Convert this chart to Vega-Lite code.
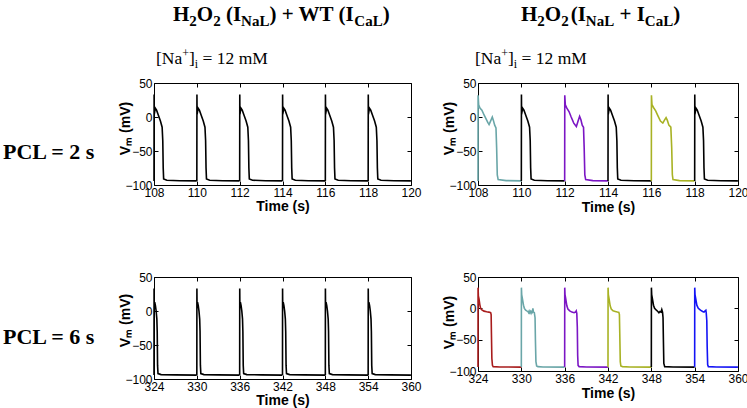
{
  "$schema": "https://vega.github.io/schema/vega-lite/v6.json",
  "background": "white",
  "padding": {"left": 2, "top": 3, "right": 2, "bottom": 2},
  "config": {
    "view": {"stroke": "#000", "strokeWidth": 1},
    "axis": {"grid": false, "domain": false, "ticks": true, "tickColor": "#000", "tickSize": -4, "labelFont": "Liberation Sans", "labelFontSize": 12, "labelColor": "#000", "labelFlush": false, "labelOverlap": false, "titleFont": "Liberation Sans", "titleFontSize": 14, "titleFontWeight": "bold", "titleColor": "#000", "labelPadding": 6},
    "text": {"color": "#000"}
  },
  "columns": 2,
  "spacing": {"row": 92, "column": 67},
  "bounds": "flush",
  "align": "each",
  "resolve": {"scale": {"x": "independent", "y": "independent", "color": "shared"}},
  "concat": [
    {
      "width": 257, "height": 102,
      "data": {"values": [
        {"t":108,"v":-94,"b":1},{"t":108.005,"v":33,"b":1},{"t":108.012,"v":4,"b":1},{"t":108.06,"v":13,"b":1},{"t":108.12,"v":10,"b":1},{"t":108.2,"v":3,"b":1},{"t":108.3,"v":-6,"b":1},{"t":108.38,"v":-15,"b":1},{"t":108.41,"v":-35,"b":1},{"t":108.43,"v":-75,"b":1},{"t":108.45,"v":-91,"b":1},{"t":108.6,"v":-93,"b":1},{"t":109.2,"v":-93.8,"b":1},{"t":109.995,"v":-94,"b":1},
        {"t":110,"v":-94,"b":2},{"t":110.005,"v":33,"b":2},{"t":110.012,"v":4,"b":2},{"t":110.06,"v":13,"b":2},{"t":110.12,"v":10,"b":2},{"t":110.2,"v":3,"b":2},{"t":110.3,"v":-6,"b":2},{"t":110.38,"v":-15,"b":2},{"t":110.41,"v":-35,"b":2},{"t":110.43,"v":-75,"b":2},{"t":110.45,"v":-91,"b":2},{"t":110.6,"v":-93,"b":2},{"t":111.2,"v":-93.8,"b":2},{"t":111.995,"v":-94,"b":2},
        {"t":112,"v":-94,"b":3},{"t":112.005,"v":33,"b":3},{"t":112.012,"v":4,"b":3},{"t":112.06,"v":13,"b":3},{"t":112.12,"v":10,"b":3},{"t":112.2,"v":3,"b":3},{"t":112.3,"v":-6,"b":3},{"t":112.38,"v":-15,"b":3},{"t":112.41,"v":-35,"b":3},{"t":112.43,"v":-75,"b":3},{"t":112.45,"v":-91,"b":3},{"t":112.6,"v":-93,"b":3},{"t":113.2,"v":-93.8,"b":3},{"t":113.995,"v":-94,"b":3},
        {"t":114,"v":-94,"b":4},{"t":114.005,"v":33,"b":4},{"t":114.012,"v":4,"b":4},{"t":114.06,"v":13,"b":4},{"t":114.12,"v":10,"b":4},{"t":114.2,"v":3,"b":4},{"t":114.3,"v":-6,"b":4},{"t":114.38,"v":-15,"b":4},{"t":114.41,"v":-35,"b":4},{"t":114.43,"v":-75,"b":4},{"t":114.45,"v":-91,"b":4},{"t":114.6,"v":-93,"b":4},{"t":115.2,"v":-93.8,"b":4},{"t":115.995,"v":-94,"b":4},
        {"t":116,"v":-94,"b":5},{"t":116.005,"v":33,"b":5},{"t":116.012,"v":4,"b":5},{"t":116.06,"v":13,"b":5},{"t":116.12,"v":10,"b":5},{"t":116.2,"v":3,"b":5},{"t":116.3,"v":-6,"b":5},{"t":116.38,"v":-15,"b":5},{"t":116.41,"v":-35,"b":5},{"t":116.43,"v":-75,"b":5},{"t":116.45,"v":-91,"b":5},{"t":116.6,"v":-93,"b":5},{"t":117.2,"v":-93.8,"b":5},{"t":117.995,"v":-94,"b":5},
        {"t":118,"v":-94,"b":6},{"t":118.005,"v":33,"b":6},{"t":118.012,"v":4,"b":6},{"t":118.06,"v":13,"b":6},{"t":118.12,"v":10,"b":6},{"t":118.2,"v":3,"b":6},{"t":118.3,"v":-6,"b":6},{"t":118.38,"v":-15,"b":6},{"t":118.41,"v":-35,"b":6},{"t":118.43,"v":-75,"b":6},{"t":118.45,"v":-91,"b":6},{"t":118.6,"v":-93,"b":6},{"t":119.2,"v":-93.8,"b":6},{"t":119.995,"v":-94,"b":6}
      ]},
      "resolve": {"axis": {"x": "independent", "y": "independent"}},
      "layer": [
        {"mark": {"type": "line", "strokeWidth": 1.6, "color": "#000"},
         "encoding": {
           "x": {"field": "t", "type": "quantitative", "scale": {"domain": [108, 120], "nice": false, "zero": false}, "axis": {"orient": "bottom", "values": [108,110,112,114,116,118,120], "title": "Time (s)", "titleY": 25, "titleBaseline": "alphabetic"}},
           "y": {"field": "v", "type": "quantitative", "scale": {"domain": [-100, 50], "nice": false}, "axis": {"orient": "left", "values": [-100,-50,0,50], "title": "Vₘ (mV)", "titleX": -25, "titleY": 45, "titleBaseline": "alphabetic"}},
           "detail": {"field": "b"}}},
        {"mark": {"type": "line", "opacity": 0},
         "encoding": {
           "x": {"field": "t", "type": "quantitative", "axis": {"orient": "top", "values": [108,110,112,114,116,118,120], "labels": false, "title": null}},
           "y": {"field": "v", "type": "quantitative", "axis": {"orient": "right", "values": [-100,-50,0,50], "labels": false, "title": null}},
           "detail": {"field": "b"}}},
        {"data": {"values": [{}]}, "mark": {"type": "text", "text": "PCL = 2 s", "x": -151, "y": 76, "align": "left", "baseline": "alphabetic", "font": "Liberation Serif", "fontWeight": "bold", "fontSize": 22}},
        {"data": {"values": [{}]}, "mark": {"type": "text", "text": "H", "x": 19, "y": -62.5, "align": "left", "baseline": "alphabetic", "font": "Liberation Serif", "fontWeight": "bold", "fontSize": 21}},
        {"data": {"values": [{}]}, "mark": {"type": "text", "text": "2", "x": 35.34, "y": -57.5, "align": "left", "baseline": "alphabetic", "font": "Liberation Serif", "fontWeight": "bold", "fontSize": 15}},
        {"data": {"values": [{}]}, "mark": {"type": "text", "text": "O", "x": 42.84, "y": -62.5, "align": "left", "baseline": "alphabetic", "font": "Liberation Serif", "fontWeight": "bold", "fontSize": 21}},
        {"data": {"values": [{}]}, "mark": {"type": "text", "text": "2", "x": 59.18, "y": -57.5, "align": "left", "baseline": "alphabetic", "font": "Liberation Serif", "fontWeight": "bold", "fontSize": 15}},
        {"data": {"values": [{}]}, "mark": {"type": "text", "text": "(I", "x": 71.93, "y": -62.5, "align": "left", "baseline": "alphabetic", "font": "Liberation Serif", "fontWeight": "bold", "fontSize": 21}},
        {"data": {"values": [{}]}, "mark": {"type": "text", "text": "NaL", "x": 87.09, "y": -57.5, "align": "left", "baseline": "alphabetic", "font": "Liberation Serif", "fontWeight": "bold", "fontSize": 15}},
        {"data": {"values": [{}]}, "mark": {"type": "text", "text": ") + WT (I", "x": 115.43, "y": -62.5, "align": "left", "baseline": "alphabetic", "font": "Liberation Serif", "fontWeight": "bold", "fontSize": 21}},
        {"data": {"values": [{}]}, "mark": {"type": "text", "text": "CaL", "x": 200.31, "y": -57.5, "align": "left", "baseline": "alphabetic", "font": "Liberation Serif", "fontWeight": "bold", "fontSize": 15}},
        {"data": {"values": [{}]}, "mark": {"type": "text", "text": ")", "x": 228.65, "y": -62.5, "align": "left", "baseline": "alphabetic", "font": "Liberation Serif", "fontWeight": "bold", "fontSize": 21}},
        {"data": {"values": [{}]}, "mark": {"type": "text", "text": "[Na", "x": 2, "y": -19, "align": "left", "baseline": "alphabetic", "font": "Liberation Serif", "fontSize": 17.5}},
        {"data": {"values": [{}]}, "mark": {"type": "text", "text": "+", "x": 28.23, "y": -26, "align": "left", "baseline": "alphabetic", "font": "Liberation Serif", "fontSize": 12}},
        {"data": {"values": [{}]}, "mark": {"type": "text", "text": "]", "x": 35.0, "y": -19, "align": "left", "baseline": "alphabetic", "font": "Liberation Serif", "fontSize": 17.5}},
        {"data": {"values": [{}]}, "mark": {"type": "text", "text": "i", "x": 40.83, "y": -15, "align": "left", "baseline": "alphabetic", "font": "Liberation Serif", "fontSize": 12}},
        {"data": {"values": [{}]}, "mark": {"type": "text", "text": "= 12 mM", "x": 48.55, "y": -19, "align": "left", "baseline": "alphabetic", "font": "Liberation Serif", "fontSize": 17.5}}
      ]
    },
    {
      "width": 260, "height": 102,
      "data": {"values": [
        {"t":108,"v":-94,"b":1,"c":"teal"},{"t":108.005,"v":32,"b":1,"c":"teal"},{"t":108.03,"v":18,"b":1,"c":"teal"},{"t":108.09,"v":13,"b":1,"c":"teal"},{"t":108.18,"v":10,"b":1,"c":"teal"},{"t":108.28,"v":3,"b":1,"c":"teal"},{"t":108.36,"v":-2,"b":1,"c":"teal"},{"t":108.45,"v":-8,"b":1,"c":"teal"},{"t":108.51,"v":-11,"b":1,"c":"teal"},{"t":108.58,"v":-6,"b":1,"c":"teal"},{"t":108.66,"v":0,"b":1,"c":"teal"},{"t":108.71,"v":-5,"b":1,"c":"teal"},{"t":108.77,"v":-12,"b":1,"c":"teal"},{"t":108.83,"v":-16,"b":1,"c":"teal"},{"t":108.86,"v":-45,"b":1,"c":"teal"},{"t":108.89,"v":-85,"b":1,"c":"teal"},{"t":108.93,"v":-92,"b":1,"c":"teal"},{"t":109.3,"v":-93.5,"b":1,"c":"teal"},{"t":109.995,"v":-94,"b":1,"c":"teal"},
        {"t":110,"v":-94,"b":2,"c":"black"},{"t":110.005,"v":33,"b":2,"c":"black"},{"t":110.012,"v":4,"b":2,"c":"black"},{"t":110.06,"v":13,"b":2,"c":"black"},{"t":110.12,"v":10,"b":2,"c":"black"},{"t":110.2,"v":3,"b":2,"c":"black"},{"t":110.3,"v":-6,"b":2,"c":"black"},{"t":110.38,"v":-15,"b":2,"c":"black"},{"t":110.41,"v":-35,"b":2,"c":"black"},{"t":110.43,"v":-75,"b":2,"c":"black"},{"t":110.45,"v":-91,"b":2,"c":"black"},{"t":110.6,"v":-93,"b":2,"c":"black"},{"t":111.2,"v":-93.8,"b":2,"c":"black"},{"t":111.995,"v":-94,"b":2,"c":"black"},
        {"t":112,"v":-94,"b":3,"c":"purple"},{"t":112.005,"v":32,"b":3,"c":"purple"},{"t":112.03,"v":18,"b":3,"c":"purple"},{"t":112.1,"v":13,"b":3,"c":"purple"},{"t":112.2,"v":8,"b":3,"c":"purple"},{"t":112.3,"v":0,"b":3,"c":"purple"},{"t":112.42,"v":-9,"b":3,"c":"purple"},{"t":112.54,"v":-14,"b":3,"c":"purple"},{"t":112.62,"v":-6,"b":3,"c":"purple"},{"t":112.69,"v":1,"b":3,"c":"purple"},{"t":112.75,"v":-4,"b":3,"c":"purple"},{"t":112.81,"v":-12,"b":3,"c":"purple"},{"t":112.87,"v":-15,"b":3,"c":"purple"},{"t":112.9,"v":-45,"b":3,"c":"purple"},{"t":112.93,"v":-85,"b":3,"c":"purple"},{"t":112.97,"v":-92,"b":3,"c":"purple"},{"t":113.3,"v":-93.5,"b":3,"c":"purple"},{"t":113.995,"v":-94,"b":3,"c":"purple"},
        {"t":114,"v":-94,"b":4,"c":"black"},{"t":114.005,"v":33,"b":4,"c":"black"},{"t":114.012,"v":4,"b":4,"c":"black"},{"t":114.06,"v":13,"b":4,"c":"black"},{"t":114.12,"v":10,"b":4,"c":"black"},{"t":114.2,"v":3,"b":4,"c":"black"},{"t":114.3,"v":-6,"b":4,"c":"black"},{"t":114.38,"v":-15,"b":4,"c":"black"},{"t":114.41,"v":-35,"b":4,"c":"black"},{"t":114.43,"v":-75,"b":4,"c":"black"},{"t":114.45,"v":-91,"b":4,"c":"black"},{"t":114.6,"v":-93,"b":4,"c":"black"},{"t":115.2,"v":-93.8,"b":4,"c":"black"},{"t":115.995,"v":-94,"b":4,"c":"black"},
        {"t":116,"v":-94,"b":5,"c":"olive"},{"t":116.005,"v":32,"b":5,"c":"olive"},{"t":116.03,"v":18,"b":5,"c":"olive"},{"t":116.1,"v":14,"b":5,"c":"olive"},{"t":116.2,"v":9,"b":5,"c":"olive"},{"t":116.3,"v":2,"b":5,"c":"olive"},{"t":116.42,"v":-6,"b":5,"c":"olive"},{"t":116.53,"v":-9,"b":5,"c":"olive"},{"t":116.6,"v":-5,"b":5,"c":"olive"},{"t":116.68,"v":-1,"b":5,"c":"olive"},{"t":116.74,"v":-5,"b":5,"c":"olive"},{"t":116.81,"v":-12,"b":5,"c":"olive"},{"t":116.9,"v":-15,"b":5,"c":"olive"},{"t":116.94,"v":-45,"b":5,"c":"olive"},{"t":116.97,"v":-85,"b":5,"c":"olive"},{"t":117.0,"v":-92,"b":5,"c":"olive"},{"t":117.3,"v":-93.5,"b":5,"c":"olive"},{"t":117.995,"v":-94,"b":5,"c":"olive"},
        {"t":118,"v":-94,"b":6,"c":"black"},{"t":118.005,"v":33,"b":6,"c":"black"},{"t":118.012,"v":4,"b":6,"c":"black"},{"t":118.06,"v":13,"b":6,"c":"black"},{"t":118.12,"v":10,"b":6,"c":"black"},{"t":118.2,"v":3,"b":6,"c":"black"},{"t":118.3,"v":-6,"b":6,"c":"black"},{"t":118.38,"v":-15,"b":6,"c":"black"},{"t":118.41,"v":-35,"b":6,"c":"black"},{"t":118.43,"v":-75,"b":6,"c":"black"},{"t":118.45,"v":-91,"b":6,"c":"black"},{"t":118.6,"v":-93,"b":6,"c":"black"},{"t":119.2,"v":-93.8,"b":6,"c":"black"},{"t":119.995,"v":-94,"b":6,"c":"black"}
      ]},
      "resolve": {"axis": {"x": "independent", "y": "independent"}},
      "layer": [
        {"mark": {"type": "line", "strokeWidth": 1.6},
         "encoding": {
           "x": {"field": "t", "type": "quantitative", "scale": {"domain": [108, 120], "nice": false, "zero": false}, "axis": {"orient": "bottom", "values": [108,110,112,114,116,118,120], "title": "Time (s)", "titleY": 26, "titleBaseline": "alphabetic"}},
           "y": {"field": "v", "type": "quantitative", "scale": {"domain": [-100, 50], "nice": false}, "axis": {"orient": "left", "values": [-100,-50,0,50], "title": "Vₘ (mV)", "titleX": -25, "titleY": 45, "titleBaseline": "alphabetic"}},
           "color": {"field": "c", "type": "nominal", "legend": null, "scale": {"domain": ["black","teal","purple","olive","red","blue"], "range": ["#000000","#6aa6a8","#7b16c4","#a8b224","#a81c1c","#1414f5"]}},
           "detail": {"field": "b"}}},
        {"mark": {"type": "line", "opacity": 0},
         "encoding": {
           "x": {"field": "t", "type": "quantitative", "axis": {"orient": "top", "values": [108,110,112,114,116,118,120], "labels": false, "title": null}},
           "y": {"field": "v", "type": "quantitative", "axis": {"orient": "right", "values": [-100,-50,0,50], "labels": false, "title": null}},
           "detail": {"field": "b"}}},
        {"data": {"values": [{}]}, "mark": {"type": "text", "text": "H", "x": 43, "y": -62.5, "align": "left", "baseline": "alphabetic", "font": "Liberation Serif", "fontWeight": "bold", "fontSize": 21}},
        {"data": {"values": [{}]}, "mark": {"type": "text", "text": "2", "x": 59.34, "y": -57.5, "align": "left", "baseline": "alphabetic", "font": "Liberation Serif", "fontWeight": "bold", "fontSize": 15}},
        {"data": {"values": [{}]}, "mark": {"type": "text", "text": "O", "x": 66.84, "y": -62.5, "align": "left", "baseline": "alphabetic", "font": "Liberation Serif", "fontWeight": "bold", "fontSize": 21}},
        {"data": {"values": [{}]}, "mark": {"type": "text", "text": "2", "x": 83.18, "y": -57.5, "align": "left", "baseline": "alphabetic", "font": "Liberation Serif", "fontWeight": "bold", "fontSize": 15}},
        {"data": {"values": [{}]}, "mark": {"type": "text", "text": "(I", "x": 92.68, "y": -62.5, "align": "left", "baseline": "alphabetic", "font": "Liberation Serif", "fontWeight": "bold", "fontSize": 21}},
        {"data": {"values": [{}]}, "mark": {"type": "text", "text": "NaL", "x": 107.84, "y": -57.5, "align": "left", "baseline": "alphabetic", "font": "Liberation Serif", "fontWeight": "bold", "fontSize": 15}},
        {"data": {"values": [{}]}, "mark": {"type": "text", "text": "+ I", "x": 141.43, "y": -62.5, "align": "left", "baseline": "alphabetic", "font": "Liberation Serif", "fontWeight": "bold", "fontSize": 21}},
        {"data": {"values": [{}]}, "mark": {"type": "text", "text": "CaL", "x": 166.82, "y": -57.5, "align": "left", "baseline": "alphabetic", "font": "Liberation Serif", "fontWeight": "bold", "fontSize": 15}},
        {"data": {"values": [{}]}, "mark": {"type": "text", "text": ")", "x": 195.16, "y": -62.5, "align": "left", "baseline": "alphabetic", "font": "Liberation Serif", "fontWeight": "bold", "fontSize": 21}},
        {"data": {"values": [{}]}, "mark": {"type": "text", "text": "[Na", "x": -3, "y": -19, "align": "left", "baseline": "alphabetic", "font": "Liberation Serif", "fontSize": 17.5}},
        {"data": {"values": [{}]}, "mark": {"type": "text", "text": "+", "x": 23.23, "y": -26, "align": "left", "baseline": "alphabetic", "font": "Liberation Serif", "fontSize": 12}},
        {"data": {"values": [{}]}, "mark": {"type": "text", "text": "]", "x": 30.0, "y": -19, "align": "left", "baseline": "alphabetic", "font": "Liberation Serif", "fontSize": 17.5}},
        {"data": {"values": [{}]}, "mark": {"type": "text", "text": "i", "x": 35.83, "y": -15, "align": "left", "baseline": "alphabetic", "font": "Liberation Serif", "fontSize": 12}},
        {"data": {"values": [{}]}, "mark": {"type": "text", "text": "= 12 mM", "x": 43.55, "y": -19, "align": "left", "baseline": "alphabetic", "font": "Liberation Serif", "fontSize": 17.5}}
      ]
    },
    {
      "width": 257, "height": 102,
      "data": {"values": [
        {"t":324,"v":-94,"b":1},{"t":324.01,"v":33,"b":1},{"t":324.03,"v":8,"b":1},{"t":324.1,"v":13,"b":1},{"t":324.2,"v":8,"b":1},{"t":324.3,"v":0,"b":1},{"t":324.4,"v":-12,"b":1},{"t":324.45,"v":-30,"b":1},{"t":324.5,"v":-80,"b":1},{"t":324.56,"v":-92,"b":1},{"t":325,"v":-93.5,"b":1},{"t":327,"v":-94,"b":1},{"t":329.99,"v":-94.3,"b":1},
        {"t":330,"v":-94,"b":2},{"t":330.01,"v":33,"b":2},{"t":330.03,"v":8,"b":2},{"t":330.1,"v":13,"b":2},{"t":330.2,"v":8,"b":2},{"t":330.3,"v":0,"b":2},{"t":330.4,"v":-12,"b":2},{"t":330.45,"v":-30,"b":2},{"t":330.5,"v":-80,"b":2},{"t":330.56,"v":-92,"b":2},{"t":331,"v":-93.5,"b":2},{"t":333,"v":-94,"b":2},{"t":335.99,"v":-94.3,"b":2},
        {"t":336,"v":-94,"b":3},{"t":336.01,"v":33,"b":3},{"t":336.03,"v":8,"b":3},{"t":336.1,"v":13,"b":3},{"t":336.2,"v":8,"b":3},{"t":336.3,"v":0,"b":3},{"t":336.4,"v":-12,"b":3},{"t":336.45,"v":-30,"b":3},{"t":336.5,"v":-80,"b":3},{"t":336.56,"v":-92,"b":3},{"t":337,"v":-93.5,"b":3},{"t":339,"v":-94,"b":3},{"t":341.99,"v":-94.3,"b":3},
        {"t":342,"v":-94,"b":4},{"t":342.01,"v":33,"b":4},{"t":342.03,"v":8,"b":4},{"t":342.1,"v":13,"b":4},{"t":342.2,"v":8,"b":4},{"t":342.3,"v":0,"b":4},{"t":342.4,"v":-12,"b":4},{"t":342.45,"v":-30,"b":4},{"t":342.5,"v":-80,"b":4},{"t":342.56,"v":-92,"b":4},{"t":343,"v":-93.5,"b":4},{"t":345,"v":-94,"b":4},{"t":347.99,"v":-94.3,"b":4},
        {"t":348,"v":-94,"b":5},{"t":348.01,"v":33,"b":5},{"t":348.03,"v":8,"b":5},{"t":348.1,"v":13,"b":5},{"t":348.2,"v":8,"b":5},{"t":348.3,"v":0,"b":5},{"t":348.4,"v":-12,"b":5},{"t":348.45,"v":-30,"b":5},{"t":348.5,"v":-80,"b":5},{"t":348.56,"v":-92,"b":5},{"t":349,"v":-93.5,"b":5},{"t":351,"v":-94,"b":5},{"t":353.99,"v":-94.3,"b":5},
        {"t":354,"v":-94,"b":6},{"t":354.01,"v":33,"b":6},{"t":354.03,"v":8,"b":6},{"t":354.1,"v":13,"b":6},{"t":354.2,"v":8,"b":6},{"t":354.3,"v":0,"b":6},{"t":354.4,"v":-12,"b":6},{"t":354.45,"v":-30,"b":6},{"t":354.5,"v":-80,"b":6},{"t":354.56,"v":-92,"b":6},{"t":355,"v":-93.5,"b":6},{"t":357,"v":-94,"b":6},{"t":359.99,"v":-94.3,"b":6}
      ]},
      "resolve": {"axis": {"x": "independent", "y": "independent"}},
      "layer": [
        {"mark": {"type": "line", "strokeWidth": 1.6, "color": "#000"},
         "encoding": {
           "x": {"field": "t", "type": "quantitative", "scale": {"domain": [324, 360], "nice": false, "zero": false}, "axis": {"orient": "bottom", "values": [324,330,336,342,348,354,360], "title": "Time (s)", "titleY": 25, "titleBaseline": "alphabetic"}},
           "y": {"field": "v", "type": "quantitative", "scale": {"domain": [-100, 50], "nice": false}, "axis": {"orient": "left", "values": [-100,-50,0,50], "title": "Vₘ (mV)", "titleX": -25, "titleY": 43, "titleBaseline": "alphabetic"}},
           "detail": {"field": "b"}}},
        {"mark": {"type": "line", "opacity": 0},
         "encoding": {
           "x": {"field": "t", "type": "quantitative", "axis": {"orient": "top", "values": [324,330,336,342,348,354,360], "labels": false, "title": null}},
           "y": {"field": "v", "type": "quantitative", "axis": {"orient": "right", "values": [-100,-50,0,50], "labels": false, "title": null}},
           "detail": {"field": "b"}}},
        {"data": {"values": [{}]}, "mark": {"type": "text", "text": "PCL = 6 s", "x": -151, "y": 67, "align": "left", "baseline": "alphabetic", "font": "Liberation Serif", "fontWeight": "bold", "fontSize": 22}}
      ]
    },
    {
      "width": 260, "height": 94,
      "data": {"values": [
        {"t":324,"v":-93.5,"b":1,"c":"red"},{"t":324.01,"v":33,"b":1,"c":"red"},{"t":324.05,"v":20,"b":1,"c":"red"},{"t":324.14,"v":15,"b":1,"c":"red"},{"t":324.25,"v":6,"b":1,"c":"red"},{"t":324.37,"v":0,"b":1,"c":"red"},{"t":324.5,"v":-2,"b":1,"c":"red"},{"t":324.83,"v":-4.5,"b":1,"c":"red"},{"t":325.2,"v":-5.5,"b":1,"c":"red"},{"t":325.5,"v":-6,"b":1,"c":"red"},{"t":325.75,"v":-7,"b":1,"c":"red"},{"t":325.82,"v":-10,"b":1,"c":"red"},{"t":325.86,"v":-40,"b":1,"c":"red"},{"t":325.92,"v":-80,"b":1,"c":"red"},{"t":326.0,"v":-91,"b":1,"c":"red"},{"t":326.1,"v":-93,"b":1,"c":"red"},{"t":327,"v":-93.5,"b":1,"c":"red"},{"t":329.99,"v":-93.8,"b":1,"c":"red"},
        {"t":330,"v":-93.5,"b":2,"c":"teal"},{"t":330.01,"v":33,"b":2,"c":"teal"},{"t":330.05,"v":22,"b":2,"c":"teal"},{"t":330.14,"v":16,"b":2,"c":"teal"},{"t":330.3,"v":5,"b":2,"c":"teal"},{"t":330.42,"v":0,"b":2,"c":"teal"},{"t":330.6,"v":-3,"b":2,"c":"teal"},{"t":330.8,"v":-4.5,"b":2,"c":"teal"},{"t":330.9,"v":-5,"b":2,"c":"teal"},{"t":331.0,"v":-7,"b":2,"c":"teal"},{"t":331.08,"v":-4.5,"b":2,"c":"teal"},{"t":331.15,"v":-7,"b":2,"c":"teal"},{"t":331.25,"v":-5,"b":2,"c":"teal"},{"t":331.35,"v":-8,"b":2,"c":"teal"},{"t":331.45,"v":-5,"b":2,"c":"teal"},{"t":331.52,"v":-6,"b":2,"c":"teal"},{"t":331.6,"v":0,"b":2,"c":"teal"},{"t":331.68,"v":-6,"b":2,"c":"teal"},{"t":331.8,"v":-7,"b":2,"c":"teal"},{"t":331.9,"v":-15,"b":2,"c":"teal"},{"t":331.95,"v":-50,"b":2,"c":"teal"},{"t":332.02,"v":-85,"b":2,"c":"teal"},{"t":332.12,"v":-92,"b":2,"c":"teal"},{"t":332.3,"v":-93,"b":2,"c":"teal"},{"t":333,"v":-93.5,"b":2,"c":"teal"},{"t":335.99,"v":-93.8,"b":2,"c":"teal"},
        {"t":336,"v":-93.5,"b":3,"c":"purple"},{"t":336.01,"v":33,"b":3,"c":"purple"},{"t":336.05,"v":22,"b":3,"c":"purple"},{"t":336.14,"v":16,"b":3,"c":"purple"},{"t":336.3,"v":4,"b":3,"c":"purple"},{"t":336.45,"v":-1,"b":3,"c":"purple"},{"t":336.7,"v":-4,"b":3,"c":"purple"},{"t":337.0,"v":-6,"b":3,"c":"purple"},{"t":337.3,"v":-7,"b":3,"c":"purple"},{"t":337.5,"v":-6,"b":3,"c":"purple"},{"t":337.6,"v":-4,"b":3,"c":"purple"},{"t":337.68,"v":-8,"b":3,"c":"purple"},{"t":337.75,"v":-30,"b":3,"c":"purple"},{"t":337.8,"v":-75,"b":3,"c":"purple"},{"t":337.86,"v":-91,"b":3,"c":"purple"},{"t":338.0,"v":-93,"b":3,"c":"purple"},{"t":339,"v":-93.5,"b":3,"c":"purple"},{"t":341.99,"v":-93.8,"b":3,"c":"purple"},
        {"t":342,"v":-93.5,"b":4,"c":"olive"},{"t":342.01,"v":33,"b":4,"c":"olive"},{"t":342.05,"v":22,"b":4,"c":"olive"},{"t":342.14,"v":16,"b":4,"c":"olive"},{"t":342.3,"v":4,"b":4,"c":"olive"},{"t":342.45,"v":-1,"b":4,"c":"olive"},{"t":342.7,"v":-4,"b":4,"c":"olive"},{"t":343.0,"v":-5,"b":4,"c":"olive"},{"t":343.3,"v":-6,"b":4,"c":"olive"},{"t":343.5,"v":-6.5,"b":4,"c":"olive"},{"t":343.58,"v":-10,"b":4,"c":"olive"},{"t":343.63,"v":-40,"b":4,"c":"olive"},{"t":343.7,"v":-85,"b":4,"c":"olive"},{"t":343.78,"v":-92,"b":4,"c":"olive"},{"t":344,"v":-93,"b":4,"c":"olive"},{"t":345,"v":-93.5,"b":4,"c":"olive"},{"t":347.99,"v":-93.8,"b":4,"c":"olive"},
        {"t":348,"v":-93.5,"b":5,"c":"black"},{"t":348.01,"v":33,"b":5,"c":"black"},{"t":348.05,"v":22,"b":5,"c":"black"},{"t":348.14,"v":16,"b":5,"c":"black"},{"t":348.3,"v":5,"b":5,"c":"black"},{"t":348.45,"v":0,"b":5,"c":"black"},{"t":348.7,"v":-3,"b":5,"c":"black"},{"t":348.9,"v":-5,"b":5,"c":"black"},{"t":349.05,"v":-7,"b":5,"c":"black"},{"t":349.2,"v":-5,"b":5,"c":"black"},{"t":349.35,"v":-6,"b":5,"c":"black"},{"t":349.45,"v":-2,"b":5,"c":"black"},{"t":349.55,"v":-6,"b":5,"c":"black"},{"t":349.62,"v":-15,"b":5,"c":"black"},{"t":349.67,"v":-50,"b":5,"c":"black"},{"t":349.73,"v":-88,"b":5,"c":"black"},{"t":349.85,"v":-93,"b":5,"c":"black"},{"t":351,"v":-93.5,"b":5,"c":"black"},{"t":353.99,"v":-93.8,"b":5,"c":"black"},
        {"t":354,"v":-93.5,"b":6,"c":"blue"},{"t":354.01,"v":33,"b":6,"c":"blue"},{"t":354.05,"v":22,"b":6,"c":"blue"},{"t":354.14,"v":16,"b":6,"c":"blue"},{"t":354.3,"v":5,"b":6,"c":"blue"},{"t":354.5,"v":0,"b":6,"c":"blue"},{"t":354.8,"v":-3,"b":6,"c":"blue"},{"t":355.1,"v":-5,"b":6,"c":"blue"},{"t":355.3,"v":-6,"b":6,"c":"blue"},{"t":355.45,"v":-4,"b":6,"c":"blue"},{"t":355.55,"v":-3,"b":6,"c":"blue"},{"t":355.6,"v":-7,"b":6,"c":"blue"},{"t":355.68,"v":-20,"b":6,"c":"blue"},{"t":355.73,"v":-60,"b":6,"c":"blue"},{"t":355.8,"v":-90,"b":6,"c":"blue"},{"t":355.9,"v":-93,"b":6,"c":"blue"},{"t":357,"v":-93.5,"b":6,"c":"blue"},{"t":359.99,"v":-93.8,"b":6,"c":"blue"}
      ]},
      "resolve": {"axis": {"x": "independent", "y": "independent"}},
      "layer": [
        {"mark": {"type": "line", "strokeWidth": 1.6},
         "encoding": {
           "x": {"field": "t", "type": "quantitative", "scale": {"domain": [324, 360], "nice": false, "zero": false}, "axis": {"orient": "bottom", "values": [324,330,336,342,348,354,360], "title": "Time (s)", "titleY": 26, "titleBaseline": "alphabetic"}},
           "y": {"field": "v", "type": "quantitative", "scale": {"domain": [-100, 50], "nice": false}, "axis": {"orient": "left", "values": [-100,-50,0,50], "title": "Vₘ (mV)", "titleX": -25, "titleY": 45, "titleBaseline": "alphabetic"}},
           "color": {"field": "c", "type": "nominal", "legend": null, "scale": {"domain": ["black","teal","purple","olive","red","blue"], "range": ["#000000","#6aa6a8","#7b16c4","#a8b224","#a81c1c","#1414f5"]}},
           "detail": {"field": "b"}}},
        {"mark": {"type": "line", "opacity": 0},
         "encoding": {
           "x": {"field": "t", "type": "quantitative", "axis": {"orient": "top", "values": [324,330,336,342,348,354,360], "labels": false, "title": null}},
           "y": {"field": "v", "type": "quantitative", "axis": {"orient": "right", "values": [-100,-50,0,50], "labels": false, "title": null}},
           "detail": {"field": "b"}}}
      ]
    }
  ]
}
